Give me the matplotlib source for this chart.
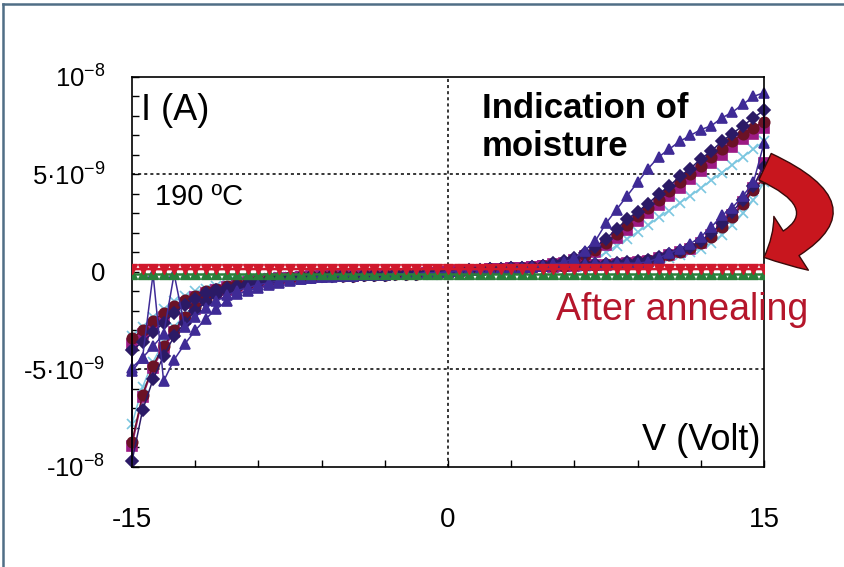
import numpy as np
import matplotlib.pyplot as plt
from matplotlib.patches import FancyArrowPatch
from matplotlib.path import Path
from matplotlib.lines import Line2D

plt.rcParams['font.family'] = ['Liberation Sans', 'DejaVu Sans']
plt.rcParams['mathtext.fontset'] = 'custom'
plt.rcParams['mathtext.rm'] = 'Liberation Sans'
plt.rcParams['mathtext.default'] = 'regular'

## Sweep voltages (V)
v_lo = np.arange(0, 5, 0.5)        # 0 .. 4.5
v_hi = np.arange(5, 15.01, 0.5)    # 5 .. 15

## Current in nA
# near-zero part, shared by all moisture curves
i_flat_pos = [0.0, 0.05, 0.1, 0.1, 0.15, 0.15, 0.2, 0.2, 0.25, 0.3]
i_flat_neg = [0.0, -0.05, -0.05, -0.1, -0.1, -0.1, -0.15, -0.15, -0.15, -0.2]

# positive side, V = 5 .. 15 (upper branch / lower branch)
tri_up = [0.4, 0.5, 0.7, 1.1, 1.6, 2.5, 3.2, 3.9, 4.6, 5.3, 5.9, 6.3, 6.7, 7.0, 7.3, 7.5, 7.9, 8.2, 8.6, 9.0, 9.2]
tri_dn = [0.35, 0.4, 0.4, 0.4, 0.45, 0.45, 0.45, 0.45, 0.45, 0.52, 0.72, 0.95, 1.2, 1.45, 1.8, 2.3, 2.9, 3.3, 3.9, 4.6, 6.6]
dia_up = [0.45, 0.55, 0.7, 0.95, 1.3, 1.7, 2.2, 2.7, 3.1, 3.5, 4.0, 4.4, 4.9, 5.3, 5.8, 6.2, 6.7, 7.1, 7.5, 7.9, 8.3]
dia_dn = [0.32, 0.33, 0.35, 0.38, 0.4, 0.42, 0.45, 0.5, 0.55, 0.62, 0.75, 0.9, 1.1, 1.3, 1.6, 2.0, 2.5, 3.1, 3.7, 4.4, 5.4]
cir_up = [0.4, 0.5, 0.6, 0.85, 1.15, 1.5, 1.95, 2.4, 2.85, 3.3, 3.7, 4.15, 4.6, 5.0, 5.45, 5.9, 6.3, 6.7, 7.1, 7.4, 7.7]
cir_dn = [0.3, 0.32, 0.34, 0.36, 0.38, 0.4, 0.42, 0.47, 0.52, 0.6, 0.72, 0.87, 1.05, 1.25, 1.5, 1.8, 2.3, 2.8, 3.5, 4.2, 4.8]
sq_up = [0.4, 0.45, 0.6, 0.8, 1.05, 1.4, 1.75, 2.15, 2.6, 3.0, 3.45, 3.9, 4.3, 4.75, 5.2, 5.6, 6.0, 6.4, 6.8, 7.1, 7.4]
sq_dn = [0.28, 0.3, 0.32, 0.34, 0.36, 0.38, 0.4, 0.44, 0.5, 0.58, 0.7, 0.85, 1.0, 1.2, 1.5, 1.9, 2.4, 2.9, 3.6, 4.3, 5.6]
x_up = [0.25, 0.3, 0.4, 0.5, 0.7, 1.0, 1.35, 1.7, 2.05, 2.4, 2.8, 3.15, 3.55, 3.9, 4.3, 4.7, 5.1, 5.5, 5.9, 6.3, 6.7]
x_dn = [0.22, 0.24, 0.26, 0.28, 0.3, 0.32, 0.35, 0.4, 0.45, 0.5, 0.6, 0.72, 0.85, 1.0, 1.2, 1.5, 1.9, 2.4, 3.0, 3.7, 4.6]

# negative side, V = -5 .. -15 (two branches)
tri_n1 = [-0.2, -0.2, -0.25, -0.3, -0.38, -0.45, -0.55, -0.65, -0.8, -0.95, -1.15, -1.5, -1.9, -2.4, -3.0, -3.7, -4.5, -5.6, -0.1, -4.4, -5.1]
tri_n2 = [-0.2, -0.25, -0.25, -0.3, -0.35, -0.4, -0.45, -0.55, -0.65, -0.8, -0.95, -1.2, -1.5, -1.85, -2.3, -2.8, -0.1, -3.2, -3.8, -4.4, -4.9]
dia_n1 = [-0.2, -0.2, -0.2, -0.25, -0.25, -0.3, -0.35, -0.4, -0.5, -0.6, -0.75, -0.95, -1.2, -1.55, -2.0, -2.6, -3.3, -4.3, -5.5, -7.1, -9.7]
dia_n2 = [-0.15, -0.2, -0.2, -0.2, -0.25, -0.3, -0.35, -0.4, -0.5, -0.6, -0.7, -0.8, -0.9, -1.1, -1.4, -1.7, -2.1, -2.6, -3.1, -3.6, -4.0]
cir_n1 = [-0.2, -0.2, -0.2, -0.25, -0.25, -0.3, -0.35, -0.4, -0.45, -0.55, -0.7, -0.85, -1.1, -1.4, -1.8, -2.3, -3.0, -3.8, -4.8, -6.3, -8.7]
cir_n2 = [-0.15, -0.15, -0.2, -0.2, -0.25, -0.25, -0.3, -0.35, -0.4, -0.5, -0.6, -0.7, -0.85, -1.0, -1.25, -1.45, -1.75, -2.1, -2.5, -3.0, -3.4]
sq_n1 = [-0.2, -0.2, -0.2, -0.25, -0.25, -0.3, -0.35, -0.4, -0.5, -0.6, -0.7, -0.9, -1.1, -1.45, -1.9, -2.4, -3.1, -3.9, -4.9, -6.4, -8.9]
sq_n2 = [-0.15, -0.15, -0.2, -0.2, -0.25, -0.3, -0.3, -0.35, -0.45, -0.5, -0.6, -0.75, -0.9, -1.1, -1.3, -1.6, -1.9, -2.3, -2.7, -3.2, -3.7]
x_n1 = [-0.15, -0.15, -0.2, -0.2, -0.25, -0.25, -0.3, -0.35, -0.4, -0.5, -0.65, -0.8, -1.05, -1.35, -1.7, -2.2, -2.8, -3.6, -4.6, -5.9, -7.8]
x_n2 = [-0.1, -0.15, -0.15, -0.2, -0.2, -0.25, -0.25, -0.3, -0.35, -0.4, -0.5, -0.6, -0.7, -0.85, -1.0, -1.25, -1.5, -1.9, -2.3, -2.8, -3.3]

# after annealing, V = -15 .. 15
v_ann = np.arange(-15, 15.01, 0.5)
ann_red = [0.15, 0.15, 0.15, 0.14, 0.15, 0.15, 0.15, 0.15, 0.14, 0.15, 0.15, 0.15, 0.15, 0.15, 0.15, 0.15,
           0.15, 0.15, 0.15, 0.15, 0.15, 0.15, 0.15, 0.15, 0.15, 0.15, 0.15, 0.15, 0.15, 0.15, 0.15,
           0.15, 0.15, 0.15, 0.15, 0.15, 0.15, 0.15, 0.15, 0.15, 0.15, 0.15, 0.15, 0.15, 0.15, 0.15,
           0.15, 0.15, 0.15, 0.15, 0.15, 0.15, 0.15, 0.15, 0.15, 0.15, 0.15, 0.15, 0.15, 0.15, 0.15]
ann_green = [-0.12, -0.12, -0.12, -0.12, -0.12, -0.12, -0.12, -0.12, -0.12, -0.12, -0.12, -0.12, -0.12, -0.12, -0.12, -0.12,
             -0.12, -0.12, -0.12, -0.12, -0.12, -0.12, -0.12, -0.12, -0.12, -0.12, -0.12, -0.12, -0.12, -0.12, -0.12,
             -0.12, -0.12, -0.12, -0.12, -0.12, -0.12, -0.12, -0.12, -0.12, -0.12, -0.12, -0.12, -0.12, -0.12, -0.12,
             -0.12, -0.12, -0.12, -0.12, -0.12, -0.12, -0.12, -0.12, -0.12, -0.12, -0.12, -0.12, -0.12, -0.12, -0.12]


def sweep(up, dn, n1, n2):
    # full loop: 0 -> 15 -> 0 -> -15 -> 0
    v = np.concatenate([v_lo, v_hi, v_hi[::-1], v_lo[::-1],
                        -v_lo, -v_hi, -v_hi[::-1], -v_lo[::-1]])
    i = np.concatenate([i_flat_pos, up, dn[::-1], i_flat_pos[::-1],
                        i_flat_neg, n1, n2[::-1], i_flat_neg[::-1]])
    return v, i * 1e-9


fig = plt.figure(figsize=(8.44, 5.67), dpi=100)
ax = fig.add_axes([0.1564, 0.1764, 0.7488, 0.6878])

# moisture curves
styles = [
    (x_up, x_dn, x_n1, x_n2, '#7cc7e0', 'x', 7.5),
    (sq_up, sq_dn, sq_n1, sq_n2, '#9c1a84', 's', 6.5),
    (cir_up, cir_dn, cir_n1, cir_n2, '#6b1226', 'o', 7.5),
    (dia_up, dia_dn, dia_n1, dia_n2, '#2b1a66', 'D', 6),
    (tri_up, tri_dn, tri_n1, tri_n2, '#3f2b96', '^', 7.5),
]
for up, dn, n1, n2, col, mk, ms in styles:
    v, i = sweep(np.array(up), np.array(dn), np.array(n1), np.array(n2))
    ax.plot(v, i, color=col, lw=1.1, marker=mk, ms=ms, mfc=col, mec=col, mew=1.2, clip_on=False)

# after annealing
ax.plot(v_ann, np.array(ann_green) * 1e-9, color='#2a7f3a', lw=1.8, marker='^', ms=7, zorder=5)
ax.plot(v_ann, np.array(ann_red) * 1e-9, color='#d0182c', lw=1.8, marker='v', ms=7, zorder=5)

ax.set_xlim(-15, 15)
ax.set_ylim(-1e-8, 1e-8)

# dotted grid
for yy in (-5e-9, 5e-9):
    ax.axhline(yy, color='black', lw=1.1, ls=(0, (2, 2)), zorder=0)
ax.axvline(0, color='black', lw=1.1, ls=(0, (2, 2)), zorder=0)

ax.set_xticks([-15, 0, 15])
ax.set_xticklabels(['-15', '0', '15'], fontsize=20)
ax.set_xticks(np.arange(-15, 15.1, 3), minor=True)
ax.set_yticks([-1e-8, -5e-9, 0, 5e-9, 1e-8])
ax.set_yticklabels(['-10$^{-8}$', '-5·10$^{-9}$', '0', '5·10$^{-9}$', '10$^{-8}$'], fontsize=18.5)
ax.set_yticks(np.arange(-1e-8, 1.01e-8, 1e-9), minor=True)
ax.tick_params(axis='both', which='both', direction='in', length=5, width=1)
ax.tick_params(axis='x', which='both', pad=29)
ax.tick_params(axis='y', which='both', pad=19)
for s in ax.spines.values():
    s.set_linewidth(1.2)

# labels inside the plot
ax.text(0.014, 0.915, 'I (A)', transform=ax.transAxes, fontsize=26, va='center', ha='left')
ax.text(0.036, 0.692, '190 ºC', transform=ax.transAxes, fontsize=21, va='center', ha='left')
ax.text(0.554, 0.962, 'Indication of\nmoisture', transform=ax.transAxes, fontsize=25,
        fontweight='bold', va='top', ha='left', linespacing=1.2)
ax.text(0.994, 0.067, 'V (Volt)', transform=ax.transAxes, fontsize=26, va='center', ha='right')
ax.text(0.870, 0.403, 'After annealing', transform=ax.transAxes, fontsize=27,
        color='#b5162b', va='center', ha='center', zorder=6)

# red curved arrow (quadratic path, data units)
arrow_path = Path([(15.05, 5.4e-9), (19.8, 3.0e-9), (15.0, 0.75e-9)],
                  [Path.MOVETO, Path.CURVE3, Path.CURVE3])
arr = FancyArrowPatch(path=arrow_path, transform=ax.transData,
                      arrowstyle='simple,tail_width=1.05,head_width=2.3,head_length=1.1',
                      mutation_scale=20, facecolor='#c8161e', edgecolor='#3a0a0a',
                      lw=1, clip_on=False, zorder=7)
ax.add_patch(arr)

# frame of the picture
fig.add_artist(Line2D([0.004, 1.0], [0.993, 0.993], transform=fig.transFigure, color='#506e86', lw=1.8))
fig.add_artist(Line2D([0.004, 0.004], [0.0, 0.993], transform=fig.transFigure, color='#506e86', lw=1.8))

fig.savefig('out.png', dpi=100)
